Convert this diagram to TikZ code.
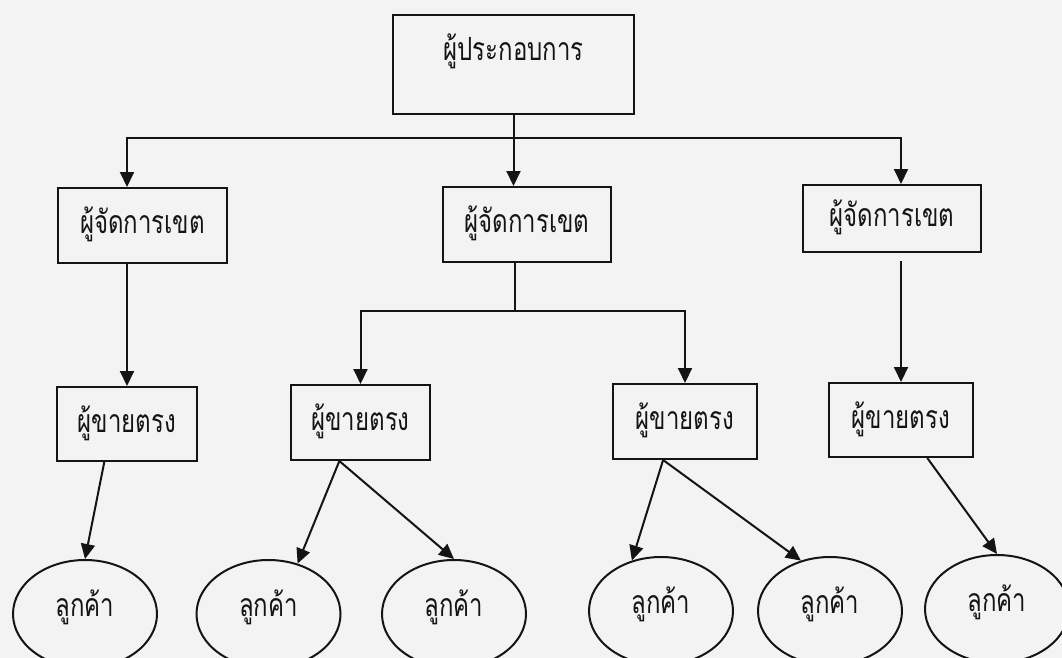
\documentclass[tikz,border=0pt]{standalone}
\usepackage{fontspec}
\newfontfamily\thaifont[Script=Thai,FakeStretch=0.75]{Loma}
\usetikzlibrary{arrows.meta,calc,shapes.geometric}
\definecolor{bg}{RGB}{243,243,243}
\definecolor{ink}{RGB}{20,20,20}
\begin{document}
\begin{tikzpicture}[x=1pt,y=-1pt,
  lbl/.style={font=\thaifont\fontsize{32}{36}\selectfont, text=ink},
  box/.style={lbl, draw=ink, line width=2pt, rectangle, inner sep=0pt, text height=24pt, text depth=8pt},
  cust/.style={lbl, draw=ink, line width=2pt, ellipse, inner sep=0pt, minimum width=144pt, minimum height=108pt, text height=24pt, text depth=20pt},
  ln/.style={draw=ink, line width=2pt},
  arr/.style={ln, -{Triangle[length=15pt,width=14pt]}}]
\fill[bg] (0,0) rectangle (1062,658);
\useasboundingbox (0,0) rectangle (1062,658);
\clip (0,0) rectangle (1062,658);
% boxes
\node[box, minimum width=241pt, minimum height=99pt, text depth=31pt] (top) at (513.5,64.5) {ผู้ประกอบการ};
\node[box, minimum width=169pt, minimum height=75pt] (m1) at (142.5,225.5) {ผู้จัดการเขต};
\node[box, minimum width=168pt, minimum height=75pt] (m2) at (527,224.5) {ผู้จัดการเขต};
\node[box, minimum width=178pt, minimum height=67pt] (m3) at (892,218.5) {ผู้จัดการเขต};
\node[box, minimum width=140pt, minimum height=74pt] (s1) at (127,424) {ผู้ขายตรง};
\node[box, minimum width=139pt, minimum height=75pt] (s2) at (360.5,422.5) {ผู้ขายตรง};
\node[box, minimum width=144pt, minimum height=75pt] (s3) at (685,421.5) {ผู้ขายตรง};
\node[box, minimum width=144pt, minimum height=74pt] (s4) at (901,420) {ผู้ขายตรง};
% customers
\node[cust] (e1) at (85,614) {ลูกค้า};
\node[cust] (e2) at (268.5,614) {ลูกค้า};
\node[cust] (e3) at (454,614) {ลูกค้า};
\node[cust] (e4) at (661,611) {ลูกค้า};
\node[cust] (e5) at (830,611) {ลูกค้า};
\node[cust] (e6) at (997,609) {ลูกค้า};
% bus coordinates
\coordinate (b1) at (513.5,138);
\coordinate (b2) at (515,311);
% top level
\draw[arr] (top.south) -- (top.south |- m2.north);
\draw[arr] (b1) -| (m1.north -| s1.north);
\draw[arr] (b1) -| (m3.north -| s4.north);
% managers to sellers
\draw[arr] (m1.south -| s1.north) -- (s1.north);
\draw[ln] (m2.south -| b2) -- (b2);
\draw[arr] (b2) -| (s2.north);
\draw[arr] (b2) -| (s3.north);
\draw[arr] ([yshift=-8pt]m3.south -| s4.north) -- (s4.north);
% sellers to customers
\draw[arr] ($(s1.south west)!0.34!(s1.south east)$) -- (e1.north);
\draw[arr] ($(s2.south west)!0.35!(s2.south east)$) -- (e2.60);
\draw[arr] ($(s2.south west)!0.35!(s2.south east)$) -- (e3.north);
\draw[arr] ($(s3.south west)!0.35!(s3.south east)$) -- (e4.120);
\draw[arr] ($(s3.south west)!0.35!(s3.south east)$) -- (e5.120);
\draw[arr] ($(s4.south west)!0.68!(s4.south east)$) -- (e6.north);
\end{tikzpicture}
\end{document}
